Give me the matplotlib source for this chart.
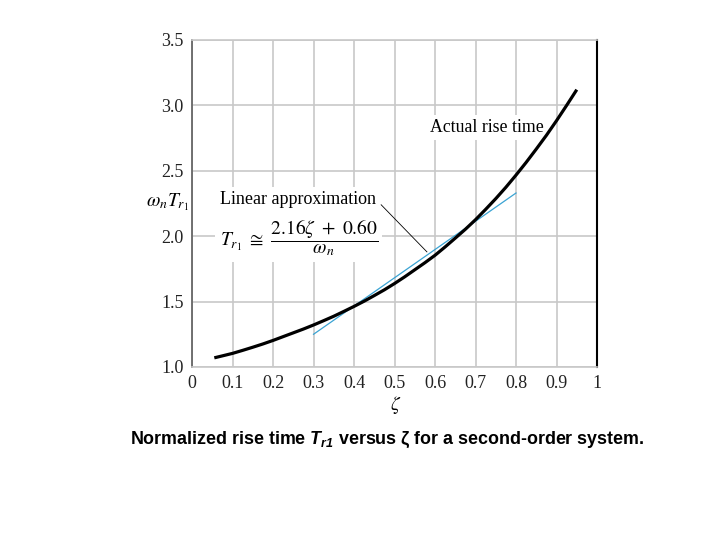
import numpy as np
import matplotlib.pyplot as plt

plt.rcParams['mathtext.bfit'] = 'Liberation Sans:italic:bold'

# actual rise time
zeta = [0.055, 0.075, 0.1, 0.125, 0.15, 0.175, 0.2, 0.225, 0.25, 0.275,
        0.3, 0.325, 0.35, 0.375, 0.4, 0.425, 0.45, 0.475, 0.5, 0.525,
        0.55, 0.575, 0.6, 0.625, 0.65, 0.675, 0.7, 0.725, 0.75, 0.775,
        0.8, 0.825, 0.85, 0.875, 0.9, 0.925, 0.95]
wn_tr = [1.070, 1.085, 1.104, 1.127, 1.151, 1.176, 1.203, 1.232, 1.261, 1.290,
         1.321, 1.354, 1.388, 1.425, 1.463, 1.503, 1.546, 1.590, 1.638, 1.689,
         1.743, 1.797, 1.854, 1.918, 1.985, 2.053, 2.126, 2.205, 2.287, 2.374,
         2.467, 2.564, 2.666, 2.771, 2.883, 3.000, 3.120]

# linear approximation endpoints
zeta_lin = [0.3, 0.8]
tr_lin = [1.25, 2.33]

xticks = [0, 0.1, 0.2, 0.3, 0.4, 0.5, 0.6, 0.7, 0.8, 0.9, 1]
xticklabels = ['0', '0.1', '0.2', '0.3', '0.4', '0.5', '0.6', '0.7', '0.8', '0.9', '1']
yticks = [1.0, 1.5, 2.0, 2.5, 3.0, 3.5]
yticklabels = ['1.0', '1.5', '2.0', '2.5', '3.0', '3.5']

fig = plt.figure(figsize=(7.2, 5.4), dpi=100)
ax = fig.add_axes([0.2667, 0.3204, 0.5625, 0.6056])

serif = 'Liberation Serif'

ax.plot(zeta, wn_tr, color='black', lw=2.3, zorder=4,
        solid_capstyle='butt', solid_joinstyle='round')
ax.plot(zeta_lin, tr_lin, color='#3aa3d3', lw=0.9, zorder=3)

ax.set_xlim(0, 1)
ax.set_ylim(1.0, 3.5)
ax.set_xticks(xticks)
ax.set_xticklabels(xticklabels, family=serif, fontsize=13, color='#222222')
ax.set_yticks(yticks)
ax.set_yticklabels(yticklabels, family=serif, fontsize=13, color='#222222')
ax.tick_params(length=0, pad=6)
ax.grid(True, color='#c8c8c8', lw=1.2, zorder=0)

for s in ['top', 'bottom']:
    ax.spines[s].set_color('#c8c8c8')
    ax.spines[s].set_linewidth(1.2)
ax.spines['left'].set_color('#666666')
ax.spines['left'].set_linewidth(1.3)
ax.spines['right'].set_color('black')
ax.spines['right'].set_linewidth(1.5)

box = dict(facecolor='white', edgecolor='none', pad=3)

ax.text(0.588, 2.83, 'Actual rise time', family=serif, fontsize=12.8,
        va='center', ha='left', bbox=box, zorder=2)

ax.text(0.068, 2.277, 'Linear approximation', family=serif, fontsize=13,
        va='center', ha='left', bbox=box, zorder=2)
ax.text(0.068, 1.99, r'$T_{r_1}\ \cong\ \dfrac{2.16\zeta\ +\ 0.60}{\omega_n}$',
        math_fontfamily='stix', fontsize=14, va='center', ha='left',
        bbox=box, zorder=2)
ax.plot([0.467, 0.58], [2.24, 1.88], color='black', lw=0.6, zorder=3)

fig.text(0.233, 0.625, r'$\omega_n T_{r_1}$', math_fontfamily='stix',
         fontsize=14, ha='center', va='center')
fig.text(0.55, 0.25, r'$\zeta$', math_fontfamily='stix', fontsize=14,
         ha='center', va='center')

fig.text(0.538, 0.185,
         r'Normalized rise time $\mathbfit{T}_{\mathbfit{r1}}$ versus ζ for a second-order system.',
         family='Liberation Sans', fontweight='bold', fontsize=12.9,
         math_fontfamily='custom', ha='center', va='center')

plt.savefig('out.png', dpi=100)
